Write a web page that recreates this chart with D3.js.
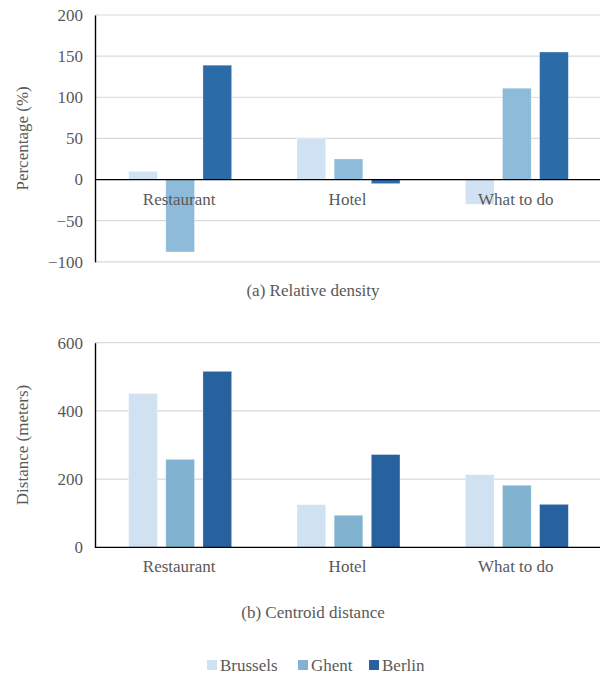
<!DOCTYPE html>
<html><head><meta charset="utf-8">
<script src="https://cdn.jsdelivr.net/npm/d3@7"></script>
<style>body{margin:0;background:#fff}svg{display:block}text{font-family:"Liberation Serif",Tinos,"Times New Roman","DejaVu Serif",serif !important;fill:#595959}</style>
</head><body><svg id="c" width="601" height="677"></svg>
<script>
const categories = ["Restaurant", "Hotel", "What to do"];
const series = ["Brussels", "Ghent", "Berlin"];
const densityValues = {
  Brussels: [10, 50, -30],
  Ghent: [-88, 25, 111],
  Berlin: [139, -5, 155]
};
const distanceValues = {
  Brussels: [451, 125, 213],
  Ghent: [258, 94, 182],
  Berlin: [516, 272, 126]
};
const densityTicks = [-100, -50, 0, 50, 100, 150, 200];
const distanceTicks = [0, 200, 400, 600];
const topColors = ["#d0e2f3", "#8dbbd9", "#2b6ca8"];
const bottomColors = ["#d0e1f2", "#81b3d1", "#27629f"];

const svg = d3.select("#c");
const FS = 17;
const FF = '"Liberation Serif", Tinos, "Times New Roman", "DejaVu Serif", serif';

function panel(opts) {
  const {values, ticks, domain, y0, y1, colors, ylabel, title, titleY, catY} = opts;
  const x0 = d3.scaleBand().domain(categories).range([95, 600]);
  const x1 = d3.scaleBand().domain(series).range([0, x0.bandwidth()]).paddingInner(0.227).paddingOuter(0.88);
  const y = d3.scaleLinear().domain(domain).range([y1, y0]);
  const g = svg.append("g");
  g.append("g").selectAll("line").data(ticks.filter(t => t !== 0)).join("line")
    .attr("x1", 95).attr("x2", 600).attr("y1", d => y(d)).attr("y2", d => y(d))
    .attr("stroke", "#d9d9d9").attr("stroke-width", 1.2);
  series.forEach((s, si) => {
    g.append("g").selectAll("rect").data(values[s]).join("rect")
      .attr("x", (d, i) => x0(categories[i]) + x1(s) + 1)
      .attr("width", x1.bandwidth())
      .attr("y", d => y(Math.max(0, d)))
      .attr("height", d => Math.abs(y(d) - y(0)))
      .attr("fill", colors[si])
      .attr("stroke", "#ffffff").attr("stroke-opacity", 0.5).attr("stroke-width", 0.6);
  });
  g.append("line").attr("x1", 95).attr("x2", 600).attr("y1", y(0)).attr("y2", y(0))
    .attr("stroke", "#000").attr("stroke-width", 1.2);
  const ax = d3.axisLeft(y).tickValues(ticks).tickSize(0).tickPadding(12);
  const ag = g.append("g").attr("transform", "translate(95,0)").call(ax).attr("font-family", FF);
  ag.select(".domain").attr("stroke", "#000").attr("stroke-width", 1.4);
  ag.selectAll("text").style("font-size", FS + "px").attr("fill", "#595959").style("font-family", FF);
  g.append("g").selectAll("text").data(categories).join("text")
    .attr("x", d => x0(d) + x0.bandwidth() / 2).attr("y", catY)
    .attr("text-anchor", "middle").attr("dominant-baseline", "central")
    .style("font-size", FS + "px").style("font-family", FF).text(d => d);
  g.append("text").attr("transform", `translate(22,${(y0 + y1) / 2}) rotate(-90)`)
    .attr("text-anchor", "middle").attr("dominant-baseline", "central")
    .style("font-size", FS + "px").style("font-family", FF).text(ylabel);
  g.append("text").attr("x", 313).attr("y", titleY).attr("text-anchor", "middle")
    .style("font-size", FS + "px").style("font-family", FF).text(title);
}

panel({values: densityValues, ticks: densityTicks, domain: [-100, 200], y0: 15, y1: 261.8,
  colors: topColors, ylabel: "Percentage (%)", title: "(a) Relative density", titleY: 296, catY: 199});
panel({values: distanceValues, ticks: distanceTicks, domain: [0, 600], y0: 342.7, y1: 547.3,
  colors: bottomColors, ylabel: "Distance (meters)", title: "(b) Centroid distance", titleY: 618, catY: 566});

const legX = [207, 298, 369];
const lg = svg.append("g");
series.forEach((s, i) => {
  lg.append("rect").attr("x", legX[i]).attr("y", 660).attr("width", 10).attr("height", 10).attr("fill", bottomColors[i]);
  lg.append("text").attr("x", legX[i] + 13).attr("y", 665).attr("dominant-baseline", "central")
    .style("font-size", FS + "px").style("font-family", FF).text(s);
});
</script></body></html>
